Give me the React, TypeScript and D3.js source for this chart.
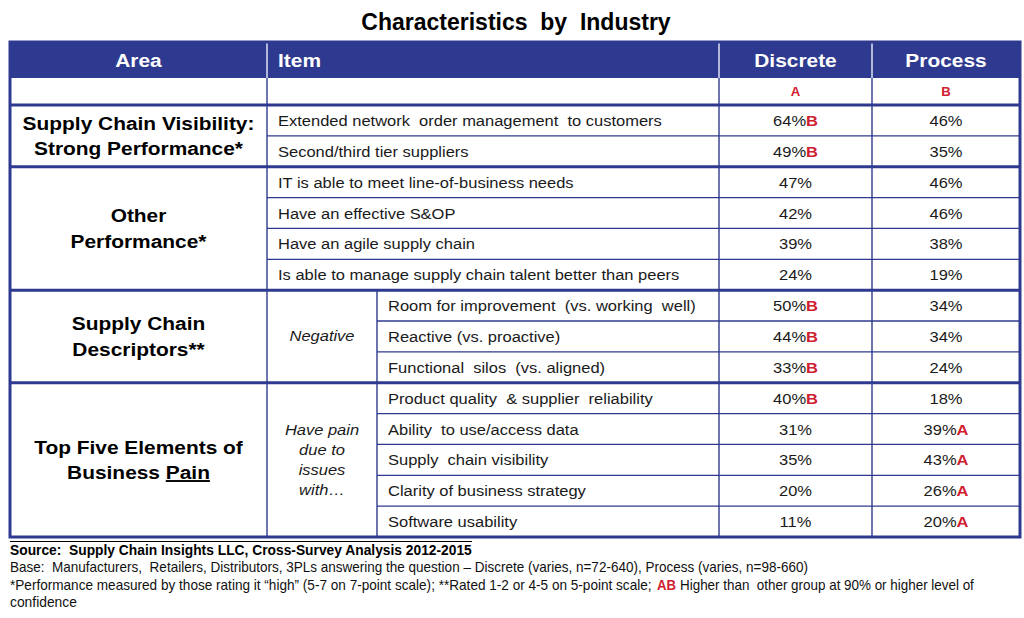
import React, { useLayoutEffect, useRef, useState } from "react";
import * as d3 from "d3";

const title = "Characteristics  by  Industry";
const headers = ["Area", "Item", "Discrete", "Process"];
const groupLetters = ["A", "B"];
const areaLabels: string[][] = [
  ["Supply Chain Visibility:", "Strong Performance*"],
  ["Other", "Performance*"],
  ["Supply Chain", "Descriptors**"],
  ["Top Five Elements of", "Business |Pain"],
];
const groupSizes = [2, 4, 3, 5];
const qualifiers: string[][] = [[], [], ["Negative"], ["Have pain", "due to", "issues", "with…"]];
const items = [
  "Extended network  order management  to customers",
  "Second/third tier suppliers",
  "IT is able to meet line-of-business needs",
  "Have an effective S&OP",
  "Have an agile supply chain",
  "Is able to manage supply chain talent better than peers",
  "Room for improvement  (vs. working  well)",
  "Reactive (vs. proactive)",
  "Functional  silos  (vs. aligned)",
  "Product quality  & supplier  reliability",
  "Ability  to use/access data",
  "Supply  chain visibility",
  "Clarity of business strategy",
  "Software usability",
];
const discreteValues = [64, 49, 47, 42, 39, 24, 50, 44, 33, 40, 31, 35, 20, 11];
const processValues = [46, 35, 46, 46, 38, 19, 34, 34, 24, 18, 39, 43, 26, 20];
const discreteSig = ["B", "B", "", "", "", "", "B", "B", "B", "B", "", "", "", ""];
const processSig = ["", "", "", "", "", "", "", "", "", "", "A", "A", "A", "A"];
const footSource = "Source:  Supply Chain Insights LLC, Cross-Survey Analysis 2012-2015";
const footBase =
  "Base:  Manufacturers,  Retailers, Distributors, 3PLs answering the question – Discrete (varies, n=72-640), Process (varies, n=98-660)";
const footNote1 = "*Performance measured by those rating it \u201chigh\u201d (5-7 on 7-point scale); **Rated 1-2 or 4-5 on 5-point scale;";
const footNoteMark = "AB";
const footNote2 = "Higher than  other group at 90% or higher level of";
const footNote3 = "confidence";

const BLUE = "#2E3A8F";
const RED = "#D0202F";
const FONT = "Arial, 'Liberation Sans', Helvetica, sans-serif";
const NARROW = "'Liberation Sans Narrow', 'Arial Narrow', 'Liberation Sans', Arial, sans-serif";

const X0 = 10, X1 = 267, X2 = 377, X3 = 719, X4 = 872, X5 = 1020;
const HEAD_TOP = 42, HEAD_BOT = 78, SUB_BOT = 105, TABLE_BOT = 537;

function T(props: any) {
  const { x, y, anchor = "start", size = 15, weight = "normal", fstyle = "normal", fill = "#1a1a1a", sx = 1.1, children } = props;
  return (
    <text
      transform={`translate(${x},${y}) scale(${sx},1)`}
      textAnchor={anchor}
      fontSize={size}
      fontWeight={weight}
      fontStyle={fstyle}
      fill={fill}
      fontFamily={FONT}
      style={{ whiteSpace: "pre" }}
    >
      {children}
    </text>
  );
}

function F(props: any) {
  const { x, y, len, weight = "normal", fill = "#111", children } = props;
  const ref = useRef<SVGTextElement>(null);
  const [sx, setSx] = useState(0.85);
  useLayoutEffect(() => {
    if (ref.current) {
      const w = ref.current.getComputedTextLength();
      if (w > 0) setSx(len / w);
    }
  }, [len, children]);
  return (
    <text
      ref={ref}
      transform={`translate(${x},${y}) scale(${sx},1)`}
      fontSize={14}
      fontWeight={weight}
      fontFamily={NARROW}
      fill={fill}
      style={{ whiteSpace: "pre" }}
    >
      {children}
    </text>
  );
}

export default function App() {
  const n = items.length;
  const y = d3.scaleLinear().domain([0, n]).range([SUB_BOT, TABLE_BOT]);
  const starts: number[] = Array.from(d3.cumsum([0, ...groupSizes]));
  const groups = groupSizes.map((s, i) => ({ start: starts[i], end: starts[i] + s, idx: i }));
  const xDisc = (X3 + X4) / 2;
  const xProc = (X4 + X5) / 2;
  const xArea = (X0 + X1) / 2;
  const thick = starts.slice(1, -1);
  const groupOf = (i: number) => groups.find((gg) => i >= gg.start && i < gg.end)!;

  return (
    <svg width={1024} height={618} style={{ position: "absolute", left: 0, top: 0, background: "#fff" }}>
      <rect x={0} y={0} width={1024} height={618} fill="#fff" />
      <text x={516} y={30} textAnchor="middle" fontSize={23} fontWeight="bold" fontFamily={FONT} fill="#000" style={{ whiteSpace: "pre" }}>
        {title}
      </text>

      {/* header */}
      <rect x={X0} y={HEAD_TOP} width={X5 - X0} height={HEAD_BOT - HEAD_TOP} fill={BLUE} />
      {[X1, X3, X4].map((x) => (
        <line key={x} x1={x} x2={x} y1={HEAD_TOP} y2={HEAD_BOT} stroke="#dfe3f2" strokeWidth={1.5} />
      ))}
      <T x={(X0 + X1) / 2} y={67} anchor="middle" size={19} weight="bold" fill="#fff">{headers[0]}</T>
      <T x={X1 + 11} y={67} size={19} weight="bold" fill="#fff">{headers[1]}</T>
      <T x={xDisc} y={67} anchor="middle" size={19} weight="bold" fill="#fff">{headers[2]}</T>
      <T x={xProc} y={67} anchor="middle" size={19} weight="bold" fill="#fff">{headers[3]}</T>

      {/* sub header letters */}
      <T x={xDisc} y={96} anchor="middle" size={12} weight="bold" fill={RED}>{groupLetters[0]}</T>
      <T x={xProc} y={96} anchor="middle" size={12} weight="bold" fill={RED}>{groupLetters[1]}</T>

      {/* thin horizontal row lines */}
      {items.map((_, i) => {
        if (i === 0 || starts.indexOf(i) >= 0) return null;
        const g = groupOf(i);
        const xs = qualifiers[g.idx].length ? X2 : X1;
        return <line key={"h" + i} x1={xs} x2={X5} y1={y(i)} y2={y(i)} stroke={BLUE} strokeWidth={1.3} />;
      })}

      {/* vertical lines */}
      {[X1, X3, X4].map((x) => (
        <line key={"v" + x} x1={x} x2={x} y1={HEAD_BOT} y2={TABLE_BOT} stroke={BLUE} strokeWidth={1.4} />
      ))}
      <line x1={X2} x2={X2} y1={y(starts[2])} y2={TABLE_BOT} stroke={BLUE} strokeWidth={1.4} />

      {/* thick lines */}
      <line x1={X0} x2={X5} y1={SUB_BOT} y2={SUB_BOT} stroke={BLUE} strokeWidth={3} />
      {thick.map((s) => (
        <line key={"t" + s} x1={X0} x2={X5} y1={y(s)} y2={y(s)} stroke={BLUE} strokeWidth={3} />
      ))}
      <rect x={X0} y={HEAD_TOP} width={X5 - X0} height={TABLE_BOT - HEAD_TOP} fill="none" stroke={BLUE} strokeWidth={3} />

      {/* area labels */}
      {groups.map((g) => {
        const cy = (y(g.start) + y(g.end)) / 2;
        const lines = areaLabels[g.idx];
        return lines.map((ln, li) => {
          const yy = cy + (li - (lines.length - 1) / 2) * 25.5 + 6.5;
          const parts = ln.split("|");
          return (
            <T key={"a" + g.idx + li} x={xArea} y={yy} anchor="middle" size={19} weight="bold" fill="#000">
              {parts[0]}
              {parts[1] ? <tspan textDecoration="underline">{parts[1]}</tspan> : null}
            </T>
          );
        });
      })}

      {/* qualifiers */}
      {groups.map((g) => {
        const q = qualifiers[g.idx];
        if (!q.length) return null;
        const cy = (y(g.start) + y(g.end)) / 2;
        return q.map((ln, li) => (
          <T key={"q" + g.idx + li} x={(X1 + X2) / 2} y={cy + (li - (q.length - 1) / 2) * 20 + 5} anchor="middle" size={15} fstyle="italic" fill="#1a1a1a">
            {ln}
          </T>
        ));
      })}

      {/* items and values */}
      {items.map((it, i) => {
        const g = groupOf(i);
        const xs = (qualifiers[g.idx].length ? X2 : X1) + 11;
        const cy = (y(i) + y(i + 1)) / 2 + 5.5;
        return (
          <g key={"r" + i}>
            <T x={xs} y={cy} size={15}>{it}</T>
            <T x={xDisc} y={cy} anchor="middle" size={15}>
              {discreteValues[i]}%
              {discreteSig[i] ? <tspan fill={RED} fontWeight="bold">{discreteSig[i]}</tspan> : null}
            </T>
            <T x={xProc} y={cy} anchor="middle" size={15}>
              {processValues[i]}%
              {processSig[i] ? <tspan fill={RED} fontWeight="bold">{processSig[i]}</tspan> : null}
            </T>
          </g>
        );
      })}

      {/* footer */}
      <line x1={10} x2={472} y1={541.5} y2={541.5} stroke="#000" strokeWidth={1} />
      <F x={10} y={555} len={462} weight="bold" fill="#000">{footSource}</F>
      <F x={10} y={572} len={798}>{footBase}</F>
      <F x={10} y={590} len={642}>{footNote1}</F>
      <F x={657} y={590} len={19} weight="bold" fill={RED}>{footNoteMark}</F>
      <F x={680} y={590} len={294}>{footNote2}</F>
      <F x={10} y={607} len={67}>{footNote3}</F>
    </svg>
  );
}
